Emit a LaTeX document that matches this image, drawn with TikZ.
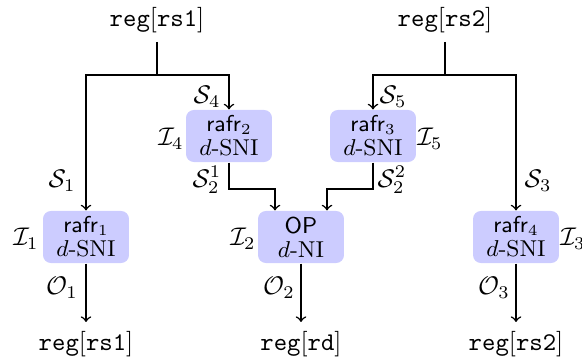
\documentclass[tikz,border=0pt]{standalone}
\usetikzlibrary{calc}
\begin{document}
\begin{tikzpicture}[x=0.392pt,y=-0.392pt,
  conn/.style={semithick},
  arr/.style={semithick,->},
  blk/.style={fill=blue!20,rounded corners=3.1pt,minimum width=33.7pt,minimum height=20.4pt,inner sep=1pt,align=center,font=\fontsize{9}{9.3}\selectfont},
  reg/.style={inner sep=3.33pt},
  lab/.style={inner sep=0pt}]
\useasboundingbox (0,0) rectangle (582,360);
% top registers
\node[reg,anchor=south] (r1) at (157,42) {\texttt{reg}$[\texttt{rs1}]$};
\node[reg,anchor=south] (r2) at (445,42) {\texttt{reg}$[\texttt{rs2}]$};
\coordinate (j1) at (157,75);
\coordinate (j2) at (445,75);
% blocks
\node[blk] (b1) at (86,237) {\textsf{rafr}$_1$\\$d$-SNI};
\node[blk] (b2) at (229,136) {\textsf{rafr}$_2$\\$d$-SNI};
\node[blk] (b3) at (373,136) {\textsf{rafr}$_3$\\$d$-SNI};
\node[blk] (b4) at (516,237) {\textsf{rafr}$_4$\\$d$-SNI};
\node[blk] (op) at (301,237) {\textsf{OP}\\$d$-NI};
% bottom registers
\node[reg,anchor=north] (o1) at (86,322) {\texttt{reg}$[\texttt{rs1}]$};
\node[reg,anchor=north] (o2) at (301,322) {\texttt{reg}$[\texttt{rd}]$};
\node[reg,anchor=north] (o3) at (516,322) {\texttt{reg}$[\texttt{rs2}]$};
\coordinate (k1) at (275,189);
\coordinate (k2) at (327,189);
% connectors
\draw[conn] (r1.south) -- (j1);
\draw[conn] (r2.south) -- (j2);
\draw[arr] (j1) -| (b1.north);
\draw[arr] (j1) -| (b2.north);
\draw[arr] (j2) -| (b3.north);
\draw[arr] (j2) -| (b4.north);
\draw[arr] (b2.south) |- (k1) -- (k1 |- op.north);
\draw[arr] (b3.south) |- (k2) -- (k2 |- op.north);
\draw[arr] (b1.south) -- (o1.north);
\draw[arr] (op.south) -- (o2.north);
\draw[arr] (b4.south) -- (o3.north);
% labels
\node[lab] (s4) at (207,97) {$\mathcal{S}_4$};
\node[lab] (s5) at (393,97) {$\mathcal{S}_5$};
\node[lab] (i4) at (171,139) {$\mathcal{I}_4$};
\node[lab] (i5) at (430,139) {$\mathcal{I}_5$};
\node[lab] (s21) at (207,180) {$\mathcal{S}_2^1$};
\node[lab] (s22) at (392,180) {$\mathcal{S}_2^2$};
\node[lab] (s1) at (62,181) {$\mathcal{S}_1$};
\node[lab] (s3) at (538,181) {$\mathcal{S}_3$};
\node[lab] (i1) at (26,239) {$\mathcal{I}_1$};
\node[lab] (i2) at (243,239) {$\mathcal{I}_2$};
\node[lab] (i3) at (573,239) {$\mathcal{I}_3$};
\node[lab] (q1) at (62,288) {$\mathcal{O}_1$};
\node[lab] (q2) at (279,288) {$\mathcal{O}_2$};
\node[lab] (q3) at (494,288) {$\mathcal{O}_3$};
\end{tikzpicture}
\end{document}
